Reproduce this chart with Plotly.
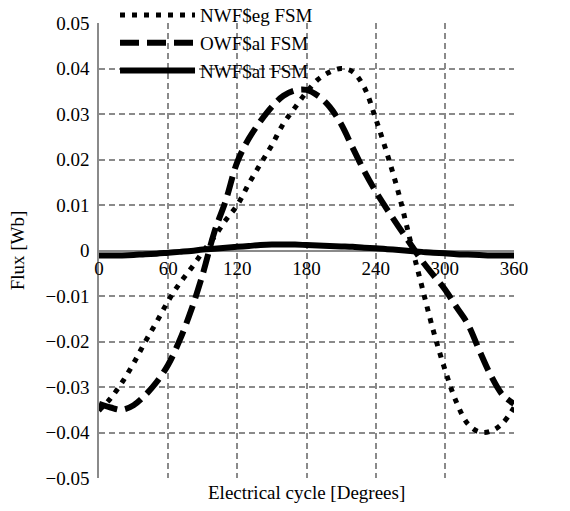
import plotly.graph_objects as go

degrees = list(range(0, 361, 10))

nwf_seg = [-0.0352, -0.0325, -0.0290, -0.0248, -0.0201, -0.0157, -0.0111, -0.0072, -0.0039, -0.0003,
           0.0030, 0.0067, 0.0100, 0.0147, 0.0190, 0.0232, 0.0279, 0.0314, 0.0348, 0.0376,
           0.0392, 0.0400, 0.0393, 0.0359, 0.0290, 0.0212, 0.0125, 0.0022, -0.0078, -0.0176,
           -0.0261, -0.0333, -0.0381, -0.0399, -0.0397, -0.0380, -0.0345]

owf_sal = [-0.0337, -0.0345, -0.0350, -0.0340, -0.0318, -0.0289, -0.0251, -0.0197, -0.0131, -0.0052,
           0.0040, 0.0110, 0.0195, 0.0246, 0.0284, 0.0316, 0.0340, 0.0352, 0.0353, 0.0340,
           0.0316, 0.0278, 0.0226, 0.0175, 0.0130, 0.0090, 0.0052, 0.0015, -0.0022, -0.0054,
           -0.0085, -0.0124, -0.0162, -0.0220, -0.0275, -0.0317, -0.0337]

nwf_sal = [-0.0011, -0.0011, -0.0011, -0.0010, -0.0008, -0.0007, -0.0005, -0.0003, -0.0001, 0.0002,
           0.0004, 0.0006, 0.0008, 0.0010, 0.0012, 0.0013, 0.0013, 0.0013, 0.0012, 0.0011,
           0.0010, 0.0009, 0.0008, 0.0006, 0.0005, 0.0003, 0.0001, -0.0001, -0.0003, -0.0005,
           -0.0006, -0.0008, -0.0009, -0.0010, -0.0011, -0.0011, -0.0011]

names = ["NWF$eg FSM", "OWF$al FSM", "NWF$al FSM"]
x_ticks = [0, 60, 120, 180, 240, 300, 360]

FONT = "Liberation Serif, Times New Roman, DejaVu Serif, serif"
FS = 19
GRID = "#8a8a8a"
tfont = dict(family=FONT, size=FS, color="black")

fig = go.Figure()
fig.add_trace(go.Scatter(x=degrees, y=nwf_seg, mode="lines", name=names[0], legendgroup="a",
                         line=dict(color="black", width=5, dash="5px,7px", shape="spline")))
fig.add_trace(go.Scatter(x=degrees, y=owf_sal, mode="lines", name=names[1], legendgroup="b",
                         line=dict(color="black", width=6, dash="19px,8px", shape="spline")))
fig.add_trace(go.Scatter(x=degrees, y=nwf_sal, mode="lines", name=names[2], legendgroup="c",
                         line=dict(color="black", width=6, shape="spline")))

fig.update_layout(
    width=570, height=511,
    margin=dict(l=99, r=56, t=23, b=33, autoexpand=False),
    paper_bgcolor="white", plot_bgcolor="white",
    font=tfont,
    showlegend=True,
    legend=dict(x=0.0386, y=1.059, xanchor="left", yanchor="top",
                bgcolor="rgba(0,0,0,0)", borderwidth=0,
                font=tfont,
                tracegroupgap=0, itemwidth=75, traceorder="grouped"),
    xaxis=dict(range=[0, 360], tickvals=x_ticks, ticktext=[str(v) for v in x_ticks],
               tickfont=tfont,
               showgrid=True, gridcolor=GRID, griddash="6px,4px", gridwidth=1.5,
               zeroline=False, showline=False, ticks="",
               anchor="free", position=0.5, ticklabelstandoff=4),
    yaxis=dict(range=[-0.05, 0.05], dtick=0.01, tick0=0, tickfont=tfont,
               showgrid=True, gridcolor=GRID, griddash="6px,4px", gridwidth=1.5,
               zeroline=True, zerolinecolor=GRID, zerolinewidth=1.5,
               showline=True, linecolor=GRID, linewidth=1.5, ticks="",
               ticklabelstandoff=4,
               title=dict(text="Flux [Wb]", standoff=16, font=tfont)),
    annotations=[dict(text="Electrical cycle [Degrees]", xref="paper", yref="paper",
                      x=0.5, y=-0.005, xanchor="center", yanchor="top", showarrow=False,
                      font=tfont)],
)

fig.write_html("out.html", config={"displayModeBar": False},
               post_script="document.body.style.margin='0';")
